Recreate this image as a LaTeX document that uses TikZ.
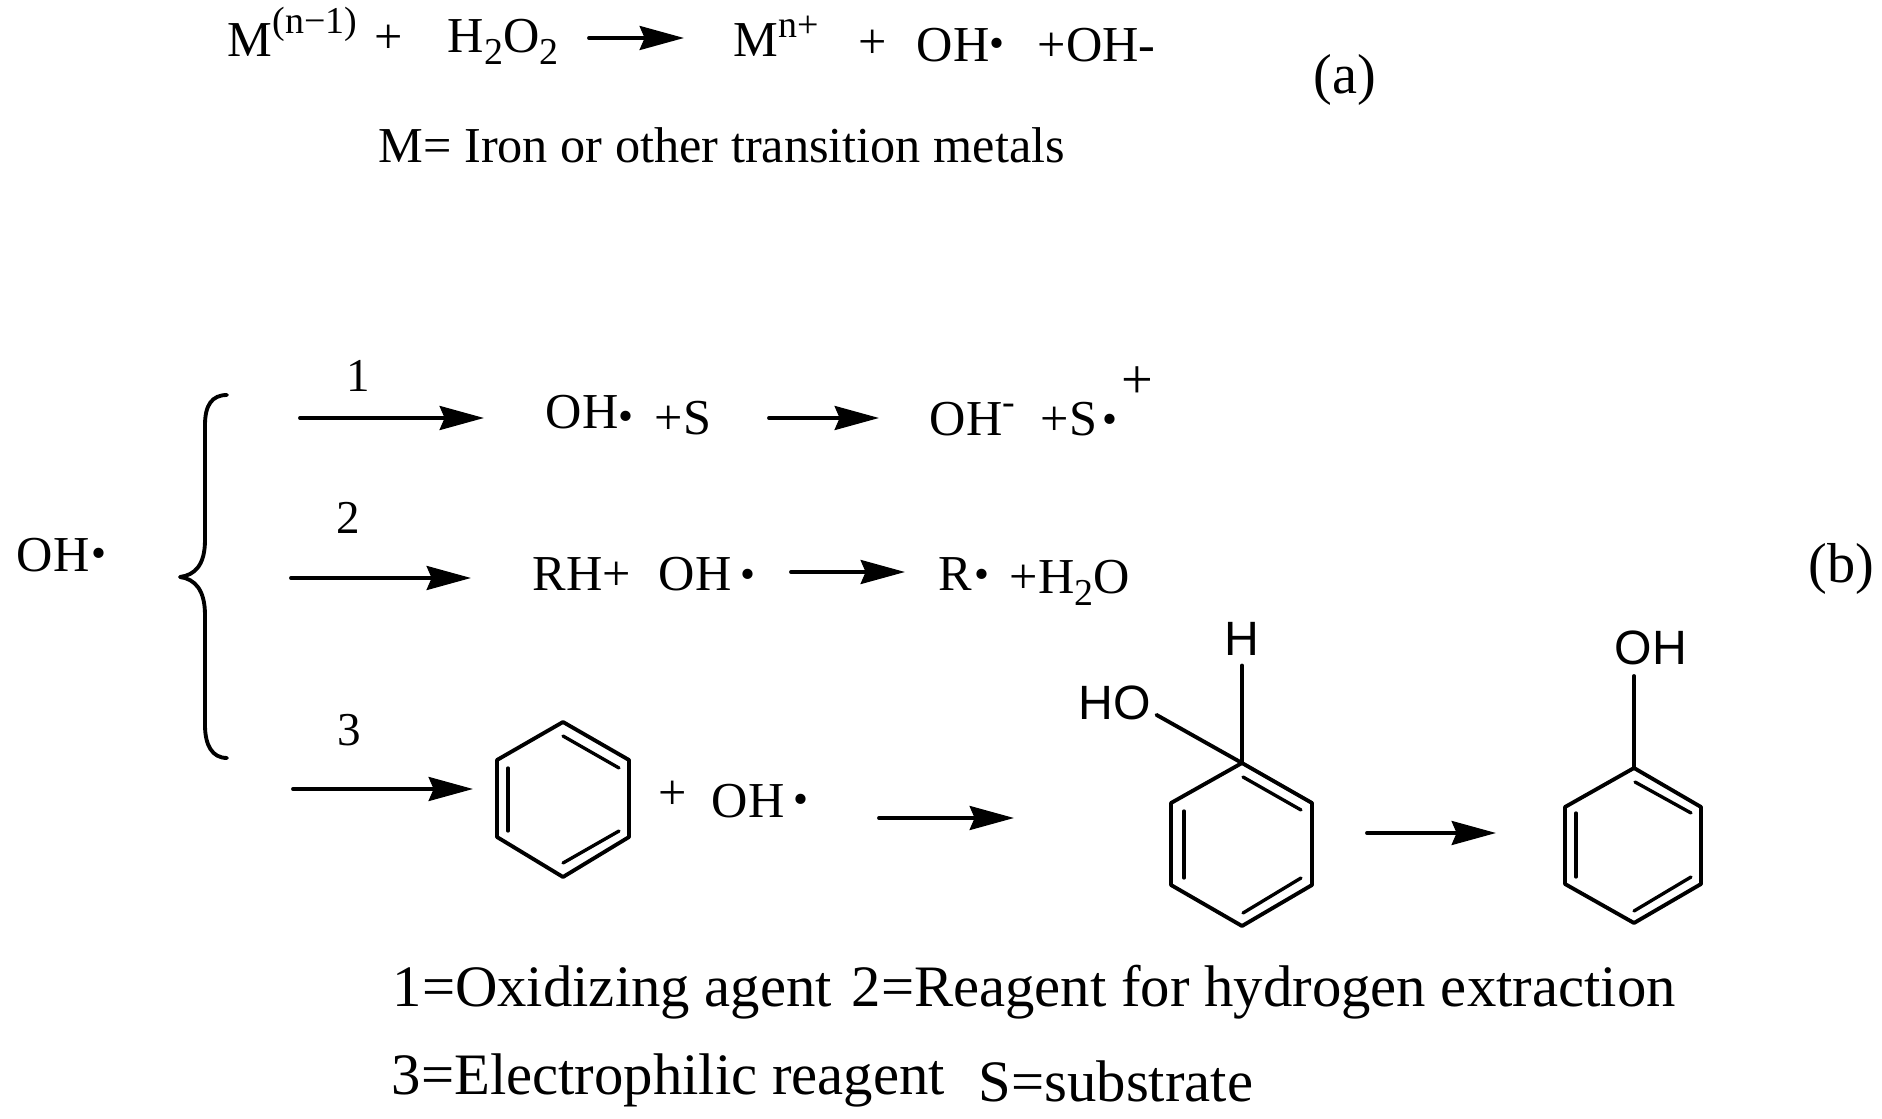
\documentclass[tikz,border=0pt]{standalone}
\usepackage{fontspec}
\setmainfont{Liberation Serif}
\newfontfamily\atomfont{Liberation Sans}
\usepackage{pgf,tikz}
\usetikzlibrary{arrows.meta}
\newcommand{\sups}[2][6pt]{\raisebox{#1}{\fontsize{10.8}{12}\selectfont #2}}
\newcommand{\subs}[1]{\raisebox{-3.2pt}{\fontsize{10.8}{12}\selectfont #1}}
\newcommand{\raddot}[1]{\raisebox{#1}{\scalebox{.85}{•}}}
\tikzset{
txt/.style={anchor=base west,inner sep=0pt,font=\fontsize{14.3}{16}\selectfont},
numb/.style={anchor=base,inner sep=0pt,font=\fontsize{13.4}{15}\selectfont},
bigtxt/.style={anchor=base west,inner sep=0pt,font=\fontsize{16}{18}\selectfont},
keytxt/.style={anchor=base west,inner sep=0pt,font=\fontsize{16.7}{19}\selectfont},
atom/.style={anchor=base,inner sep=0pt,font=\atomfont\fontsize{13.7}{15}\selectfont},
bond/.style={line width=1.1pt},
inbond/.style={line width=0.95pt},
}
\begin{document}
\begin{tikzpicture}[line cap=round,line join=round,>={Stealth[length=12.6pt,width=6.8pt,inset=1.4pt]},x=0.01cm,y=-0.01cm]
\useasboundingbox (0,0) rectangle (1882,1119);
\draw (227,57) node[txt] (mone) {M\sups[6.6pt]{(n−1)}};
\draw (374,54) node[txt] (plusa) {+};
\draw (447,53) node[txt] (perox) {H\subs{2}O\subs{2}};
\draw (733,57) node[txt] (mtwo) {M\sups[5.4pt]{n+}};
\draw (858,59) node[txt] (plusb) {+};
\draw (916,62) node[txt] (oha) {OH\raddot{1.2pt}};
\draw (1037,62) node[txt] (ohm) {+OH-};
\draw (1313,94) node[bigtxt] (laba) {(a)};
\draw (378,163) node[txt] (metal) {M= Iron or other transition metals};
\draw (358,392) node[numb] (none) {1};
\draw (348,534) node[numb] (ntwo) {2};
\draw (349,745) node[numb] (nthree) {3};
\draw (16,572) node[txt] (ohl) {OH\hspace{.6pt}\raddot{1.2pt}};
\draw (545,429) node[txt] (ohb) {OH\raddot{-.4pt}};
\draw (654,435) node[txt] (plss) {+S};
\draw (929,436) node[txt] (ohc) {OH\sups{-}};
\draw (1040,436) node[txt] (plsr) {+S\hspace{1.6pt}\raddot{.6pt}};
\draw (1121,399) node[bigtxt] (plsc) {+};
\draw (532,591) node[txt] (rhp) {RH+};
\draw (658,591) node[txt] (ohd) {OH\hspace{2.6pt}\raddot{.8pt}};
\draw (938,591) node[txt] (rad) {R\hspace{.6pt}\raddot{.8pt}};
\draw (1009,594) node[txt] (wat) {+H\subs{2}O};
\draw (658,809) node[txt] (plsd) {+};
\draw (711,817) node[txt] (ohe) {OH\hspace{2.6pt}\raddot{1pt}};
\draw (1808,583) node[bigtxt] (labb) {(b)};
\draw (1242,656) node[atom] (hh) {H};
\draw (1115,719) node[atom] (ho) {HO};
\draw (1651,665) node[atom] (oh) {OH};
\draw (392,1006) node[keytxt] (keya) {1=Oxidizing agent};
\draw (851,1006) node[keytxt] (keyb) {2=Reagent for hydrogen extraction};
\draw (391,1094) node[keytxt] (keyc) {3=Electrophilic reagent};
\draw (978,1101) node[keytxt] (keyd) {S=substrate};
\coordinate (aas) at (589,38);
\coordinate (aae) at (684,38);
\coordinate (bas) at (300,418);
\coordinate (bae) at (484,418);
\coordinate (bbs) at (769,418);
\coordinate (bbe) at (879,418);
\coordinate (cas) at (291,578);
\coordinate (cae) at (471,578);
\coordinate (cbs) at (791,572);
\coordinate (cbe) at (905,572);
\coordinate (das) at (293,789);
\coordinate (dae) at (473,789);
\coordinate (dbs) at (879,818);
\coordinate (dbe) at (1014,818);
\coordinate (dcs) at (1367,833);
\coordinate (dce) at (1496,833);
\draw [->,bond] (aas) -- (aae);
\draw [->,bond] (bas) -- (bae);
\draw [->,bond] (bbs) -- (bbe);
\draw [->,bond] (cas) -- (cae);
\draw [->,bond] (cbs) -- (cbe);
\draw [->,bond] (das) -- (dae);
\draw [->,bond] (dbs) -- (dbe);
\draw [->,bond] (dcs) -- (dce);
\draw [bond] (227,395) .. controls (212,395) and (205,405) .. (205,425) -- (205,540) .. controls (205,565) and (195,575) .. (180,577) .. controls (195,579) and (205,590) .. (205,615) -- (205,725) .. controls (205,745) and (212,758) .. (227,758);
\draw [bond] (563,722)-- (629,760)-- (629,837)-- (563,877)-- (497,837)-- (497,760)-- cycle;
\draw [inbond] (563,736)-- (619,768);
\draw [inbond] (508,768)-- (508,831);
\draw [inbond] (619,831)-- (563,863);
\coordinate (ringb) at (1242,763);
\draw [bond] (ringb)-- (1312,803)-- (1312,885)-- (1242,926)-- (1171,885)-- (1171,803)-- cycle;
\draw [inbond] (1243,777)-- (1301,810);
\draw [inbond] (1184,811)-- (1184,878);
\draw [inbond] (1301,878)-- (1243,913);
\draw [bond,shorten <=2.5pt] (hh.south) -- (ringb);
\draw [bond,shorten <=1.5pt] (ho.-15) -- (ringb);
\coordinate (ringc) at (1634,768);
\draw [bond] (ringc)-- (1701,807)-- (1701,884)-- (1634,923)-- (1565,884)-- (1565,807)-- cycle;
\draw [inbond] (1635,782)-- (1691,813);
\draw [inbond] (1576,813)-- (1576,877);
\draw [inbond] (1691,877)-- (1634,911);
\draw [bond,shorten <=2.8pt] (oh.south -| ringc) -- (ringc);
\end{tikzpicture}
\end{document}
